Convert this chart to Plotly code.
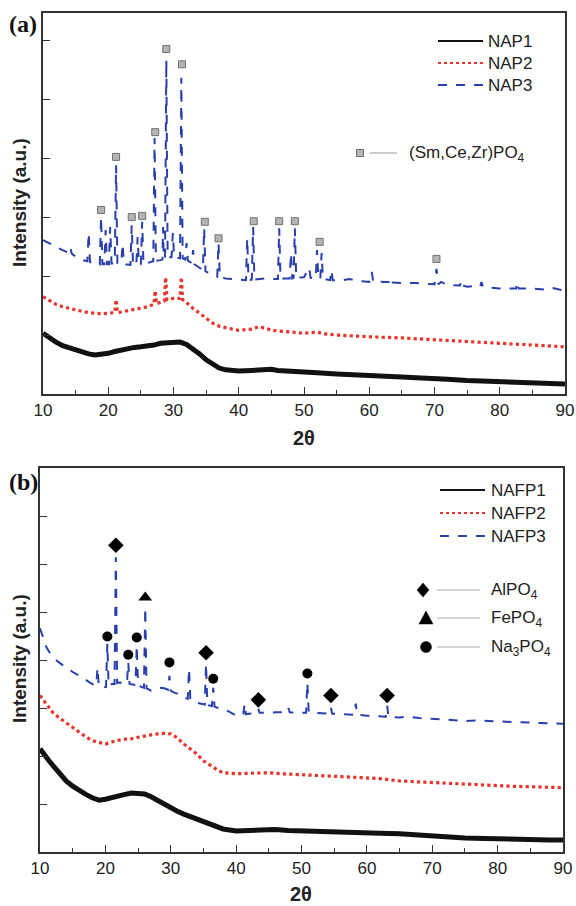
import plotly.graph_objects as go

W, H = 576, 906

# ---------------- Panel (a) data ----------------
nap1_x = [10, 11, 12, 13, 14, 15, 16, 17, 18, 19, 20, 21, 22, 23, 24, 25, 26, 27, 28, 29, 30, 31, 32, 33, 34, 35,
          36, 37, 38, 39, 40, 42, 44, 45, 46, 48, 50, 52, 55, 58, 60, 62, 65, 68, 70, 72, 75, 78, 80, 82, 85, 88, 90]
nap1_y = [1.03, 0.95, 0.88, 0.82, 0.78, 0.75, 0.71, 0.68, 0.66, 0.67, 0.69, 0.72, 0.75, 0.77, 0.79, 0.80, 0.81,
          0.83, 0.86, 0.87, 0.88, 0.88, 0.84, 0.77, 0.68, 0.58, 0.50, 0.44, 0.41, 0.40, 0.39, 0.40, 0.41, 0.42,
          0.40, 0.38, 0.36, 0.36, 0.34, 0.33, 0.32, 0.31, 0.29, 0.27, 0.25, 0.25, 0.23, 0.22, 0.20, 0.20, 0.19,
          0.18, 0.17]

nap2_x = [10, 11, 12, 13, 14, 15, 16, 17, 18, 19, 20, 21, 21.2, 21.4, 22, 23, 24, 25, 26, 27, 27.2, 27.4, 28,
          28.6, 28.8, 29.0, 30, 31.0, 31.2, 31.4, 32, 33, 34, 35, 36, 37, 38, 39, 40, 42, 43, 44, 45, 47, 50,
          52, 53, 55, 58, 60, 65, 70, 75, 80, 85, 90]
nap2_y = [1.65, 1.58, 1.52, 1.48, 1.45, 1.43, 1.40, 1.38, 1.37, 1.36, 1.37, 1.38, 1.60, 1.38, 1.39, 1.41, 1.43,
          1.45, 1.48, 1.52, 1.75, 1.53, 1.56, 1.58, 1.98, 1.60, 1.62, 1.62, 1.98, 1.60, 1.55, 1.45, 1.37, 1.28,
          1.20, 1.15, 1.12, 1.10, 1.08, 1.10, 1.14, 1.12, 1.08, 1.06, 1.03, 1.05, 1.02, 1.00, 0.98, 0.97, 0.95,
          0.92, 0.89, 0.86, 0.83, 0.80]

nap3_x = [10.0, 11.0, 12.0, 13.0, 14.0, 14.2, 14.4, 15.0, 16.0, 16.8, 17.0, 17.2, 18.0, 18.7, 18.9, 19.1, 19.4,
          19.6, 19.8, 20.1, 20.3, 20.5, 21.0, 21.2, 21.4, 22.0, 22.2, 22.4, 23.4, 23.6, 23.8, 24.3, 24.5, 24.7,
          25.0, 25.2, 25.4, 26.0, 26.5, 26.9, 27.1, 27.3, 28.0, 28.3, 28.4, 28.5, 28.7, 28.9, 29.1, 29.7, 29.9,
          30.1, 30.5, 31.0, 31.2, 31.4, 31.8, 32.0, 32.2, 32.8, 33.0, 33.2, 34.0, 34.5, 34.7, 34.9, 35.5, 36.0,
          36.7, 36.9, 37.1, 38.0, 39.0, 40.0, 41.1, 41.3, 41.5, 42.0, 42.2, 42.4, 43.0, 44.0, 45.0, 46.0, 46.2,
          46.4, 47.0, 47.8, 48.0, 48.2, 48.4, 48.6, 48.8, 49.5, 50.0, 50.8, 51.0, 51.8, 52.0, 52.2, 52.5, 52.7,
          52.9, 53.5, 54.0, 54.2, 54.4, 55.0, 56.0, 57.0, 58.0, 59.0, 60.0, 60.4, 60.6, 61.5, 62.0, 63.2, 63.4,
          63.6, 65.0, 67.0, 69.0, 70.0, 70.3, 70.6, 71.0, 72.0, 73.9, 74.1, 74.3, 75.0, 76.0, 77.0, 77.2, 77.4,
          78.0, 80.0, 82.5, 82.7, 82.9, 85.0, 87.0, 88.0, 90.0]
nap3_y = [2.61, 2.55, 2.49, 2.44, 2.39, 2.48, 2.38, 2.33, 2.27, 2.25, 2.73, 2.24, 2.19, 2.19, 3.00, 2.20, 2.20,
          2.78, 2.20, 2.20, 2.83, 2.21, 2.22, 3.88, 2.22, 2.22, 2.55, 2.20, 2.19, 2.86, 2.19, 2.19, 2.66, 2.20,
          2.20, 2.92, 2.20, 2.22, 2.24, 2.25, 4.34, 2.26, 2.27, 2.28, 2.83, 2.30, 2.30, 5.66, 2.32, 2.32, 2.73,
          2.32, 2.31, 2.30, 5.36, 2.30, 2.28, 2.56, 2.26, 2.22, 2.44, 2.20, 2.14, 2.10, 2.81, 2.08, 2.05, 2.02,
          1.99, 2.56, 1.98, 1.96, 1.95, 1.93, 1.93, 2.64, 1.93, 1.94, 2.83, 1.94, 1.95, 1.96, 1.95, 1.95, 2.81,
          1.95, 1.96, 1.96, 2.39, 1.96, 1.97, 2.81, 1.97, 1.97, 1.98, 2.14, 1.97, 1.96, 2.44, 1.96, 1.95, 2.39,
          1.95, 1.94, 1.93, 2.10, 1.93, 1.93, 1.93, 1.95, 1.92, 1.91, 1.90, 2.07, 1.90, 1.92, 1.90, 1.90, 1.97,
          1.89, 1.88, 1.88, 1.87, 1.86, 2.12, 1.86, 1.90, 1.85, 1.84, 1.93, 1.84, 1.82, 1.83, 1.82, 1.90, 1.82,
          1.81, 1.79, 1.79, 1.90, 1.79, 1.79, 1.77, 1.80, 1.75]

smcezr_x = [18.9, 21.2, 23.6, 25.2, 27.2, 28.9, 31.3, 34.8, 36.9, 42.3, 46.2, 48.6, 52.4, 70.3]
smcezr_y = [3.12, 4.02, 3.00, 3.02, 4.44, 5.85, 5.59, 2.92, 2.64, 2.93, 2.93, 2.93, 2.58, 2.29]

# ---------------- Panel (b) data ----------------
nafp1_x = [10, 10.5, 11, 11.5, 12, 13, 14, 15, 16, 17, 18, 19, 20, 21, 22, 23, 24, 25, 26, 27, 28, 29, 30, 31,
           32, 33, 34, 35, 36, 37, 38, 39, 40, 42, 44, 45, 46, 48, 50, 52, 55, 58, 60, 62, 65, 68, 70, 72, 75,
           78, 80, 82, 85, 88, 90]
nafp1_y = [2.15, 2.05, 1.96, 1.88, 1.80, 1.63, 1.48, 1.37, 1.27, 1.20, 1.13, 1.08, 1.10, 1.14, 1.17, 1.20, 1.23,
           1.23, 1.21, 1.15, 1.07, 0.99, 0.92, 0.85, 0.79, 0.74, 0.69, 0.63, 0.58, 0.53, 0.48, 0.46, 0.44, 0.45,
           0.47, 0.48, 0.47, 0.45, 0.44, 0.43, 0.40, 0.40, 0.40, 0.39, 0.38, 0.35, 0.33, 0.32, 0.29, 0.28, 0.27,
           0.27, 0.26, 0.25, 0.25]

nafp2_x = [10, 11, 12, 13, 14, 15, 16, 17, 18, 19, 20, 21, 22, 23, 24, 25, 26, 27, 28, 29, 30, 31, 32, 33, 34,
           35, 36, 37, 38, 39, 40, 42, 44, 45, 47, 50, 52, 55, 58, 60, 62, 65, 68, 70, 72, 75, 78, 80, 82, 85,
           88, 90]
nafp2_y = [3.26, 3.08, 2.90, 2.79, 2.69, 2.58, 2.48, 2.40, 2.32, 2.28, 2.25, 2.29, 2.33, 2.35, 2.36, 2.39, 2.42,
           2.44, 2.46, 2.47, 2.46, 2.38, 2.25, 2.14, 2.04, 1.90, 1.80, 1.72, 1.65, 1.64, 1.63, 1.64, 1.65, 1.65,
           1.63, 1.61, 1.60, 1.59, 1.57, 1.55, 1.53, 1.48, 1.46, 1.44, 1.43, 1.42, 1.40, 1.38, 1.37, 1.36, 1.34,
           1.34]

nafp3_x = [10.0, 10.5, 11.0, 11.5, 12.0, 13.0, 14.0, 15.0, 16.0, 17.0, 18.0, 18.6, 18.8, 19.0, 19.5, 20.1, 20.3,
           20.5, 21.0, 21.4, 21.6, 21.8, 22.0, 23.0, 23.3, 23.5, 23.7, 24.6, 24.8, 25.0, 25.5, 25.9, 26.1, 26.3,
           27.0, 28.0, 28.5, 29.0, 29.6, 29.8, 30.0, 30.5, 31.0, 31.5, 32.0, 32.6, 32.8, 33.0, 34.0, 35.0, 35.2,
           35.4, 35.6, 36.3, 36.5, 36.7, 37.0, 38.0, 39.0, 40.0, 41.1, 41.3, 41.5, 42.0, 43.2, 43.4, 43.6, 45.0,
           46.0, 47.8, 48.0, 48.2, 50.0, 50.7, 50.9, 51.1, 52.0, 54.3, 54.5, 54.7, 55.0, 57.0, 58.1, 58.3, 58.5,
           60.0, 62.9, 63.1, 63.3, 65.0, 66.0, 68.0, 70.0, 72.0, 75.0, 77.0, 80.0, 83.0, 85.0, 88.0, 90.0]
nafp3_y = [4.66, 4.45, 4.26, 4.15, 4.05, 3.94, 3.84, 3.75, 3.67, 3.58, 3.50, 3.47, 3.84, 3.45, 3.42, 3.44, 4.34,
           3.46, 3.50, 3.50, 6.14, 3.52, 3.53, 3.52, 3.51, 3.95, 3.50, 3.48, 4.30, 3.47, 3.45, 3.42, 5.09, 3.41,
           3.36, 3.40, 3.42, 3.41, 3.38, 3.67, 3.36, 3.32, 3.30, 3.26, 3.22, 3.19, 3.82, 3.17, 3.11, 3.08, 3.07,
           3.92, 3.06, 3.04, 3.42, 3.03, 3.01, 2.98, 2.92, 2.84, 2.86, 3.09, 2.87, 2.88, 2.90, 2.98, 2.90, 2.90,
           2.91, 2.91, 3.00, 2.91, 2.90, 2.90, 3.53, 2.92, 2.90, 2.88, 3.00, 2.88, 2.88, 2.86, 2.86, 3.09, 2.86,
           2.84, 2.82, 3.05, 2.82, 2.80, 2.82, 2.79, 2.78, 2.76, 2.73, 2.74, 2.72, 2.71, 2.69, 2.68, 2.67]

alpo4_x = [21.6, 35.4, 43.4, 54.5, 63.1]
alpo4_y = [6.39, 4.15, 3.17, 3.26, 3.26]
fepo4_x = [26.1]
fepo4_y = [5.30]
na3po4_x = [20.3, 23.5, 24.8, 29.8, 36.5, 50.9]
na3po4_y = [4.49, 4.11, 4.47, 3.95, 3.61, 3.72]

legend_a = ["NAP1", "NAP2", "NAP3"]
legend_b = ["NAFP1", "NAFP2", "NAFP3"]

# ---------------- styles ----------------
BLACK = "#111111"
RED = "#e8342c"
BLUE = "#2a3fae"
FONT = "Liberation Sans, Arial, sans-serif"


def px_x(p):
    return p / W


def px_y(p):
    return 1 - p / H


fig = go.Figure()

# panel a traces
fig.add_trace(go.Scatter(x=nap1_x, y=nap1_y, mode="lines", line=dict(color=BLACK, width=5),
                         xaxis="x", yaxis="y", showlegend=False))
fig.add_trace(go.Scatter(x=nap2_x, y=nap2_y, mode="lines", line=dict(color=RED, width=3.2, dash="dot"),
                         xaxis="x", yaxis="y", showlegend=False))
fig.add_trace(go.Scatter(x=nap3_x, y=nap3_y, mode="lines", line=dict(color=BLUE, width=2, dash="dash"),
                         xaxis="x", yaxis="y", showlegend=False))
fig.add_trace(go.Scatter(x=smcezr_x, y=smcezr_y, mode="markers",
                         marker=dict(symbol="square", size=7, color="#b4b4b4", line=dict(color="#707070", width=1)),
                         xaxis="x", yaxis="y", showlegend=False))

# panel b traces
fig.add_trace(go.Scatter(x=nafp1_x, y=nafp1_y, mode="lines", line=dict(color=BLACK, width=5),
                         xaxis="x2", yaxis="y2", showlegend=False))
fig.add_trace(go.Scatter(x=nafp2_x, y=nafp2_y, mode="lines", line=dict(color=RED, width=3.2, dash="dot"),
                         xaxis="x2", yaxis="y2", showlegend=False))
fig.add_trace(go.Scatter(x=nafp3_x, y=nafp3_y, mode="lines", line=dict(color=BLUE, width=2, dash="dash"),
                         xaxis="x2", yaxis="y2", showlegend=False))
fig.add_trace(go.Scatter(x=alpo4_x, y=alpo4_y, mode="markers",
                         marker=dict(symbol="diamond", size=12, color="black"),
                         xaxis="x2", yaxis="y2", showlegend=False))
fig.add_trace(go.Scatter(x=fepo4_x, y=fepo4_y, mode="markers",
                         marker=dict(symbol="triangle-up", size=12, color="black"),
                         xaxis="x2", yaxis="y2", showlegend=False))
fig.add_trace(go.Scatter(x=na3po4_x, y=na3po4_y, mode="markers",
                         marker=dict(symbol="circle", size=10, color="black"),
                         xaxis="x2", yaxis="y2", showlegend=False))

axis_common = dict(showline=True, linecolor="#333333", linewidth=1.5, mirror=True, showgrid=False,
                   zeroline=False, ticks="inside", tickcolor="#333333", ticklen=7, tickwidth=1.3)

xa = dict(axis_common, range=[10, 90], tickmode="linear", tick0=10, dtick=10,
          tickfont=dict(family=FONT, size=17, color="#222222"),
          minor=dict(dtick=5, tick0=10, ticks="inside", ticklen=4, tickcolor="#333333", tickwidth=1.2))
ya = dict(axis_common, showticklabels=False, tickmode="linear", tick0=0, dtick=1)

fig.update_layout(
    width=W, height=H, margin=dict(l=0, r=0, t=0, b=0, autoexpand=False),
    paper_bgcolor="white", plot_bgcolor="white", showlegend=False,
    xaxis=dict(xa, domain=[px_x(43), px_x(565)], anchor="y"),
    yaxis=dict(ya, domain=[px_y(394), px_y(13)], range=[0, 6.46], anchor="x"),
    xaxis2=dict(xa, domain=[px_x(40), px_x(563)], anchor="y2"),
    yaxis2=dict(ya, domain=[px_y(852), px_y(468)], range=[0, 8.0], anchor="x2"),
)

shapes = []
annots = []

# axis titles and panel labels
for xc, yc in ((304, 438), (301, 894)):
    annots.append(dict(text="<b>2θ</b>", x=px_x(xc), y=px_y(yc), xref="paper", yref="paper",
                       showarrow=False, font=dict(family=FONT, size=20, color="#222222"),
                       xanchor="center", yanchor="middle"))
for yc in (203, 659):
    annots.append(dict(text="<b>Intensity (a.u.)</b>", x=px_x(19), y=px_y(yc), xref="paper", yref="paper",
                       showarrow=False, textangle=-90, font=dict(family=FONT, size=19, color="#222222"),
                       xanchor="center", yanchor="middle"))
for lab, yc in (("(a)", 24), ("(b)", 482)):
    annots.append(dict(text="<b>%s</b>" % lab, x=px_x(23), y=px_y(yc), xref="paper", yref="paper",
                       showarrow=False, font=dict(family="Liberation Serif, Times New Roman, serif", size=24,
                                                  color="#111111"),
                       xanchor="center", yanchor="middle"))

# series legends
styles = [(BLACK, "solid", 2), (RED, "dot", 2), (BLUE, "dash", 2)]
for names, x0, x1, tx, ys in ((legend_a, 438, 483, 486, (41, 63, 85)),
                              (legend_b, 440, 485, 489, (490, 513, 536))):
    for name, (col, dash, w), yc in zip(names, styles, ys):
        shapes.append(dict(type="line", xref="paper", yref="paper", x0=px_x(x0), x1=px_x(x1),
                           y0=px_y(yc), y1=px_y(yc), line=dict(color=col, width=w, dash=dash)))
        annots.append(dict(text=name, x=px_x(tx), y=px_y(yc), xref="paper", yref="paper", showarrow=False,
                           xanchor="left", yanchor="middle", font=dict(family=FONT, size=17, color="#222222")))

# phase legend (a)
shapes.append(dict(type="rect", xref="paper", yref="paper", xsizemode="pixel", ysizemode="pixel",
                   xanchor=px_x(360), yanchor=px_y(153), x0=-3.5, x1=3.5, y0=-3.5, y1=3.5,
                   fillcolor="#b4b4b4", line=dict(color="#707070", width=1)))
shapes.append(dict(type="line", xref="paper", yref="paper", x0=px_x(370), x1=px_x(397),
                   y0=px_y(153), y1=px_y(153), line=dict(color="#aaaaaa", width=1.2)))
annots.append(dict(text="(Sm,Ce,Zr)PO<sub>4</sub>", x=px_x(407), y=px_y(154), xref="paper", yref="paper",
                   showarrow=False, xanchor="left", yanchor="middle",
                   font=dict(family=FONT, size=17, color="#222222")))

# phase legend (b)
phase_b = [("AlPO<sub>4</sub>", 590, "M 0 7 L 6 0 L 0 -7 L -6 0 Z", 423),
           ("FePO<sub>4</sub>", 618, "M -7 -6 L 7 -6 L 0 7 Z", 426),
           ("Na<sub>3</sub>PO<sub>4</sub>", 647, None, 426)]
for txt, yc, path, mx in phase_b:
    if path:
        shapes.append(dict(type="path", xref="paper", yref="paper", xsizemode="pixel", ysizemode="pixel",
                           xanchor=px_x(mx), yanchor=px_y(yc), path=path, fillcolor="black",
                           line=dict(color="black", width=0.5)))
    else:
        shapes.append(dict(type="circle", xref="paper", yref="paper", xsizemode="pixel", ysizemode="pixel",
                           xanchor=px_x(mx), yanchor=px_y(yc), x0=-5.5, x1=5.5, y0=-5.5, y1=5.5,
                           fillcolor="black", line=dict(color="black", width=0.5)))
    shapes.append(dict(type="line", xref="paper", yref="paper", x0=px_x(437), x1=px_x(480),
                       y0=px_y(yc), y1=px_y(yc), line=dict(color="#aaaaaa", width=1.2)))
    annots.append(dict(text=txt, x=px_x(489), y=px_y(yc + 1), xref="paper", yref="paper", showarrow=False,
                       xanchor="left", yanchor="middle", font=dict(family=FONT, size=17, color="#222222")))

fig.update_layout(shapes=shapes, annotations=annots)
fig.write_html("out.html", config={"displayModeBar": False},
               post_script="document.body.style.margin='0px';")
